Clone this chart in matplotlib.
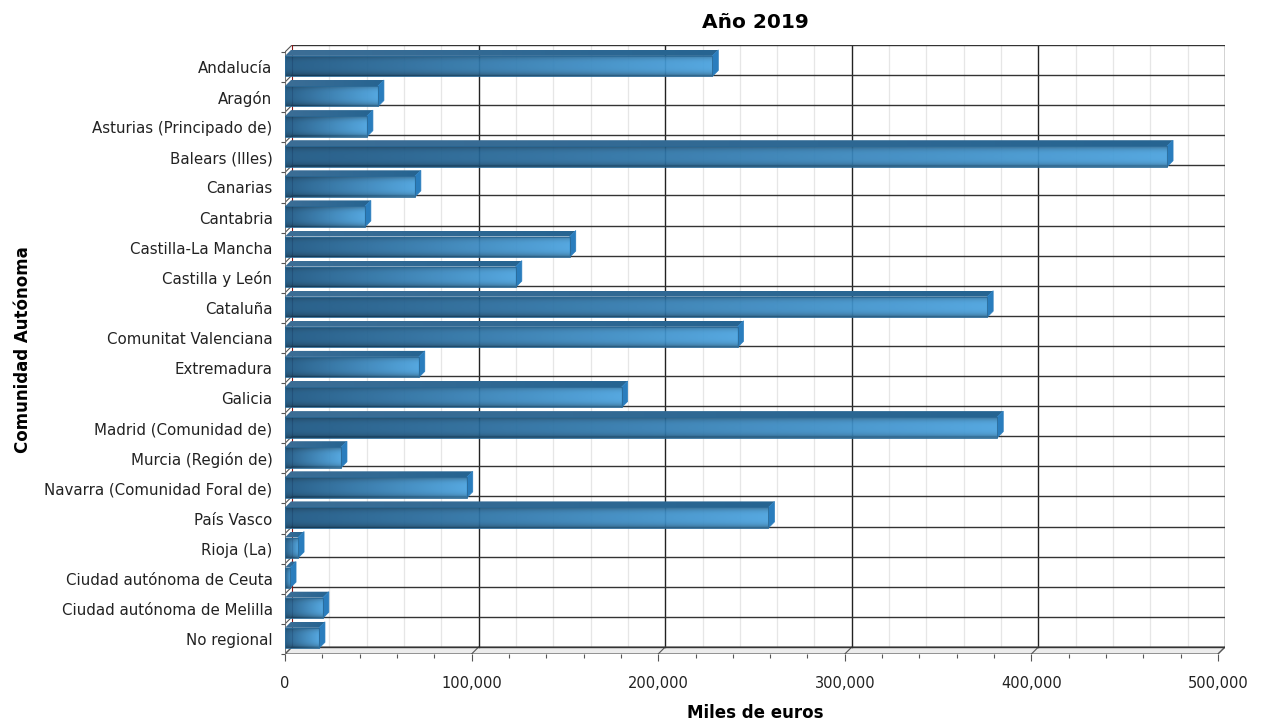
import matplotlib.pyplot as plt
import numpy as np
from matplotlib.patches import Polygon, Rectangle

# Datos (miles de euros)
comunidades = ['Andalucía', 'Aragón', 'Asturias (Principado de)', 'Balears (Illes)',
               'Canarias', 'Cantabria', 'Castilla-La Mancha', 'Castilla y León',
               'Cataluña', 'Comunitat Valenciana', 'Extremadura', 'Galicia',
               'Madrid (Comunidad de)', 'Murcia (Región de)', 'Navarra (Comunidad Foral de)',
               'País Vasco', 'Rioja (La)', 'Ciudad autónoma de Ceuta',
               'Ciudad autónoma de Melilla', 'No regional']
valores = [229000, 49800, 43900, 472700, 69600, 42800, 152600, 123700, 376300, 242500,
           71700, 180400, 381700, 30000, 97400, 259100, 7000, 2700, 20300, 18200]
ticks_x = [0, 100000, 200000, 300000, 400000, 500000]

fig = plt.figure(figsize=(12.61, 7.22), dpi=100)
ax = fig.add_axes([285 / 1261, (722 - 654) / 722, 940 / 1261, 609 / 722])

n = len(comunidades)
xmax = 500000
dx = 7 * xmax / 933      # profundidad del suelo/pared
dy = 7 / 30.1
bdx = 6 * xmax / 933     # profundidad de las barras
bdy = 6 / 30.1
y_sup, y_inf = 0.13, 0.81

oscuro = np.array([28, 86, 130]) / 255
claro = np.array([74, 162, 222]) / 255


def cara(x0, x1, y0, y1, c_izq, c_der, sombra, clip, alpha=1.0):
    t = np.linspace(0, 1, 256)
    col = c_izq + (c_der - c_izq) * t[:, None]
    s = np.linspace(-1, 1, 40)
    f = 1 - sombra * np.abs(s) ** 3
    img = np.clip(f[:, None, None] * col[None, :, :], 0, 1)
    im = ax.imshow(img, extent=(x0, x1, y1, y0), origin='upper', aspect='auto',
                   zorder=3, interpolation='bilinear', alpha=alpha)
    im.set_clip_path(clip)


# suelo
ax.add_patch(Polygon([(0, n), (xmax, n), (xmax + dx, n - dy), (dx, n - dy)],
                     closed=True, facecolor='#ececec', edgecolor='#555555', lw=0.8, zorder=1))

# rejilla del fondo
for v in np.arange(0, xmax + 1, 20000):
    if v % 100000:
        ax.plot([v + dx, v + dx], [-dy, n - dy], color='#e6e6e6', lw=0.9, zorder=0.5)
for v in ticks_x[1:]:
    ax.plot([v + dx, v + dx], [-dy, n - dy], color='#222222', lw=1.0, zorder=1)
    ax.plot([v, v + dx], [n, n - dy], color='#555555', lw=0.8, zorder=1)
for k in range(n + 1):
    ax.plot([dx, xmax + dx], [k - dy, k - dy], color='#333333', lw=1.0, zorder=1)
    ax.plot([0, dx], [k, k - dy], color='#555555', lw=0.8, zorder=1)
ax.plot([dx, dx], [-dy, n - dy], color='#8b1a1a', lw=0.8, zorder=1)
ax.plot([0, 0], [0, n], color='#777777', lw=0.8, zorder=1)
ax.plot([0, xmax], [n, n], color='#555555', lw=0.8, zorder=1.5)

# barras
for i, v in enumerate(valores):
    y0, y1 = i + y_sup, i + y_inf
    # cara superior
    sup = Polygon([(0, y0), (v, y0), (v + bdx, y0 - bdy), (bdx, y0 - bdy)], closed=True,
                  transform=ax.transData)
    cara(0, v + bdx, y0 - bdy, y0, np.array([60, 110, 150]) / 255,
         np.array([38, 100, 145]) / 255, 0.0, sup)
    # cara lateral
    lat = Polygon([(v, y0), (v + bdx, y0 - bdy), (v + bdx, y1 - bdy), (v, y1)], closed=True,
                  facecolor='#2a7dbd', edgecolor='#2a7dbd', lw=0.5, zorder=3)
    ax.add_patch(lat)
    # cara frontal
    fr = Rectangle((0, y0), v, y1 - y0, transform=ax.transData)
    cara(0, v, y0, y1, oscuro, claro, 0.35, fr, alpha=0.94)
    ax.add_patch(Rectangle((0, y0), v, y1 - y0, facecolor='none', edgecolor='#2a6a98',
                           lw=0.6, zorder=3.5))

ax.set_xlim(0, xmax + dx)
ax.set_ylim(n, -dy)

ax.set_xticks(ticks_x)
ax.set_xticklabels([f'{t:,}' for t in ticks_x], fontsize=10.5, color='#222222')
ax.set_xticks(np.arange(0, xmax + 1, 20000), minor=True)
ax.tick_params(axis='x', which='major', length=5, width=0.8, color='#555555', pad=11)
ax.tick_params(axis='x', which='minor', length=3, width=0.8, color='#555555')

ax.set_yticks(np.arange(n) + 0.5)
ax.set_yticklabels(comunidades, fontsize=10.8, color='#222222')
ax.set_yticks(np.arange(n + 1), minor=True)
ax.tick_params(axis='y', which='major', length=0, pad=9)
ax.tick_params(axis='y', which='minor', length=3, width=0.8, color='#555555')

for s in ax.spines.values():
    s.set_visible(False)

ax.set_title('Año 2019', fontsize=14.5, fontweight='bold', pad=12)
ax.set_xlabel('Miles de euros', fontsize=12, fontweight='bold', labelpad=9)
ax.set_ylabel('Comunidad Autónoma', fontsize=12, fontweight='bold', labelpad=9)

fig.savefig('out.png', dpi=100)
